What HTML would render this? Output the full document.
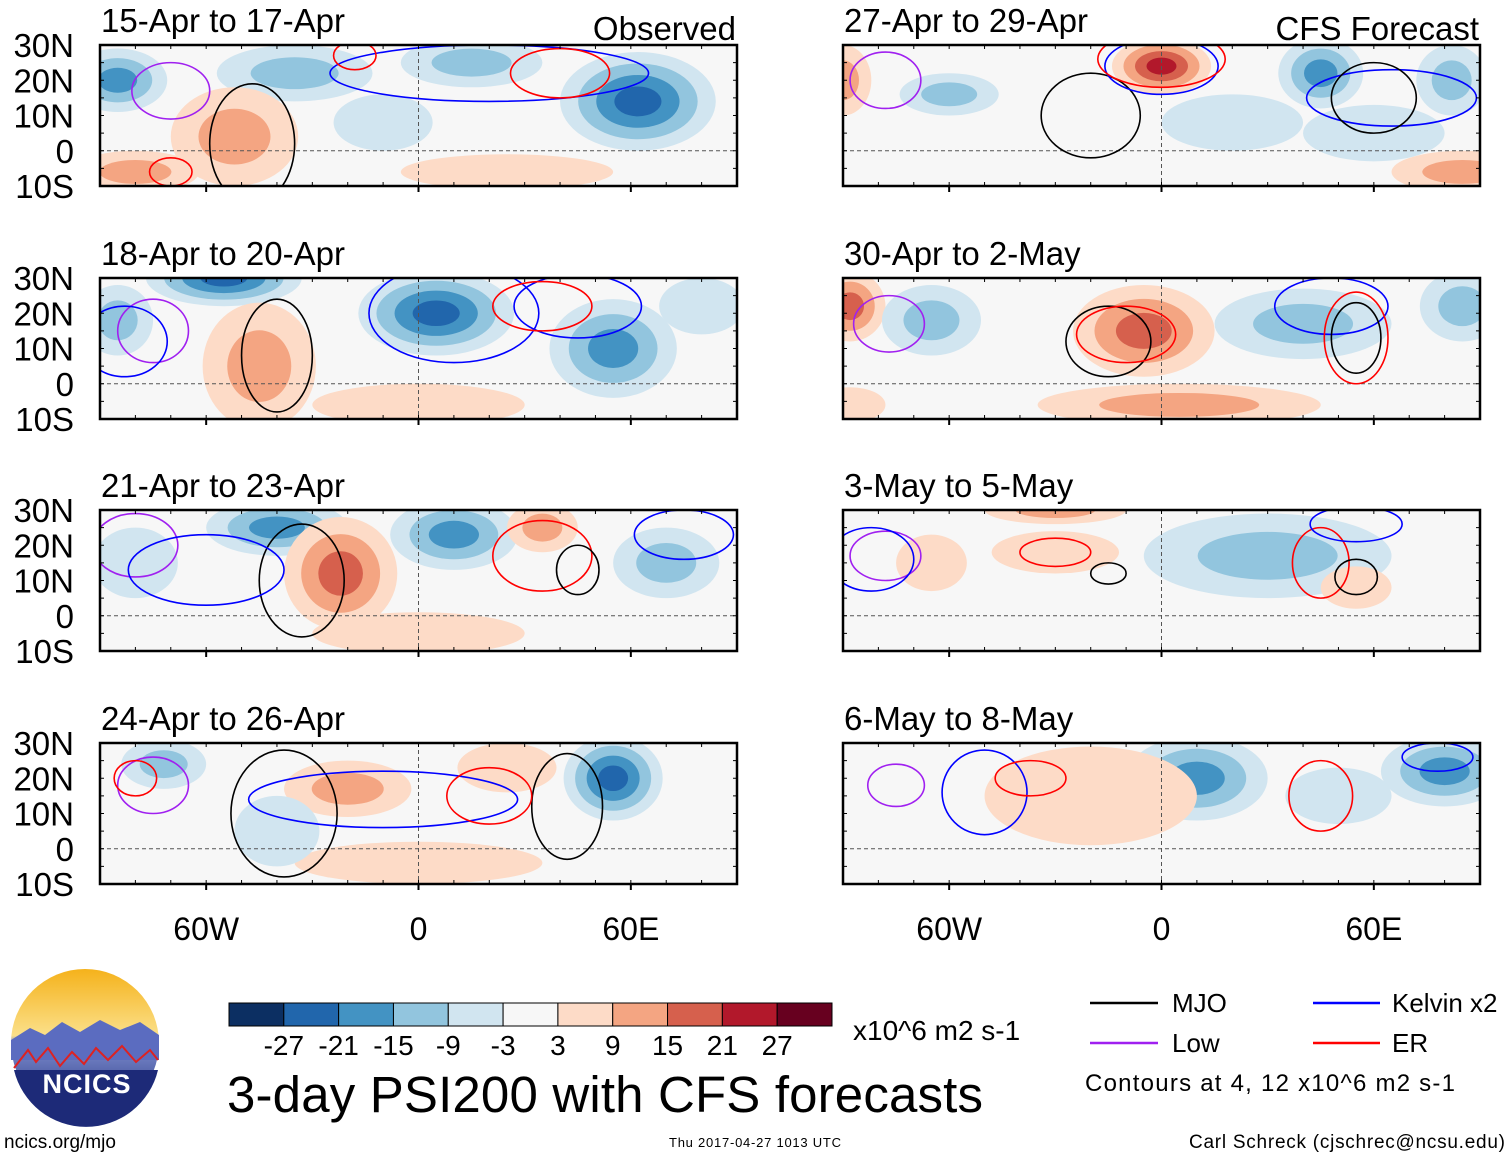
<!DOCTYPE html>
<html><head><meta charset="utf-8">
<style>
body{margin:0;background:#fff;}
svg{display:block;font-family:"Liberation Sans",Arial,sans-serif;}
</style></head>
<body>
<svg id="chart" width="1510" height="1158" viewBox="0 0 1510 1158" xmlns="http://www.w3.org/2000/svg">
<defs>
<linearGradient id="sky" x1="0" y1="0" x2="0" y2="1">
<stop offset="0" stop-color="#f5b21b"/><stop offset="0.45" stop-color="#fbe08a"/><stop offset="0.5" stop-color="#7f8fd0"/><stop offset="1" stop-color="#1d2a78"/>
</linearGradient>
</defs>
<g id="panels"></g>
<g id="colorbar"></g>
<g>
<circle cx="85" cy="1043" r="74" fill="url(#sky)"/>
<path d="M11,1040 L30,1028 L45,1035 L62,1022 L80,1032 L100,1020 L120,1030 L140,1022 L159,1035 L159,1060 L11,1060Z" fill="#5b6cc0"/>
<path d="M14,1068 L28,1050 L36,1062 L48,1048 L60,1066 L72,1052 L84,1064 L96,1048 L108,1060 L122,1046 L136,1062 L150,1050 L158,1060" fill="none" stroke="#d22" stroke-width="2"/>
<path d="M14,1070 L158,1070 A74,74 0 0 1 14,1070Z" fill="#1d2a78"/>
<text x="87" y="1093" text-anchor="middle" font-size="27" font-weight="bold" fill="#fff" letter-spacing="1">NCICS</text>
</g>
<text x="853" y="1040" font-size="28">x10^6 m2 s-1</text>
<text x="227" y="1112" font-size="51" textLength="756">3-day PSI200 with CFS forecasts</text>
<g font-size="26">
<line x1="1090" y1="1003" x2="1158" y2="1003" stroke="#000" stroke-width="2.5"/><text x="1172" y="1012">MJO</text>
<line x1="1090" y1="1043" x2="1158" y2="1043" stroke="#a020f0" stroke-width="2.5"/><text x="1172" y="1052">Low</text>
<line x1="1313" y1="1003" x2="1380" y2="1003" stroke="#0000ff" stroke-width="2.5"/><text x="1392" y="1012">Kelvin x2</text>
<line x1="1313" y1="1043" x2="1380" y2="1043" stroke="#ff0000" stroke-width="2.5"/><text x="1392" y="1052">ER</text>
<text x="1085" y="1091" font-size="24" textLength="370">Contours at 4, 12 x10^6 m2 s-1</text>
</g>
<text x="4" y="1148" font-size="19">ncics.org/mjo</text>
<text x="755" y="1147" font-size="13" text-anchor="middle" textLength="172">Thu 2017-04-27 1013 UTC</text>
<text x="1505" y="1148" font-size="19" text-anchor="end" textLength="316">Carl Schreck (cjschrec@ncsu.edu)</text>
</svg>
<script>
const NS="http://www.w3.org/2000/svg";
const levels=[-27,-21,-15,-9,-3,3,9,15,21,27];
const levelColors=["#0c2f62","#2166ac","#4393c3","#92c5de","#d1e5f0","#f7f7f7","#fddbc7","#f4a582","#d6604d","#b2182b","#67001f"];
const panelTitles=["15-Apr to 17-Apr","18-Apr to 20-Apr","21-Apr to 23-Apr","24-Apr to 26-Apr","27-Apr to 29-Apr","30-Apr to 2-May","3-May to 5-May","6-May to 8-May"];
const latTicks=["30N","20N","10N","0","10S"];
const latVals=[30,20,10,0,-10];
const lonTicks=["60W","0","60E"];
const lonVals=[-60,0,60];
// blobs: [lon, lat, rxDeg, ryDeg, value]
const blobs=[
[[-85,20,14,9,-15],[-35,22,22,8,-9],[15,25,20,7,-9],[62,14,22,14,-21],[-52,4,18,14,9],[-80,-6,18,6,9],[25,-6,30,5,3],[-10,8,14,8,-3]],
[[-55,30,22,8,-21],[5,20,22,12,-21],[55,10,18,14,-15],[-45,5,16,18,9],[-85,18,10,10,-9],[0,-6,30,6,3],[80,22,12,8,-3]],
[[-40,25,20,8,-15],[10,23,18,10,-15],[-22,12,16,16,15],[35,25,10,7,9],[-80,15,12,10,-3],[70,15,15,10,-9],[0,-5,30,6,3]],
[[55,20,14,12,-21],[-20,17,18,8,9],[-72,24,12,7,-9],[0,-4,35,6,3],[25,23,14,7,3],[-40,5,12,10,-3]],
[[0,24,14,8,21],[45,22,12,10,-15],[82,20,10,10,-9],[-90,20,8,10,9],[-60,16,14,6,-9],[20,8,20,8,-3],[60,5,20,8,-3],[85,-6,20,6,9]],
[[-88,22,10,10,15],[-5,15,20,13,15],[-65,18,14,10,-9],[40,17,25,10,-9],[85,22,12,10,-9],[5,-6,40,6,9],[-88,-6,10,5,3]],
[[-30,30,20,4,9],[30,17,35,12,-9],[-30,18,18,6,3],[-65,15,10,8,3],[55,8,10,6,3]],
[[10,20,20,12,-15],[80,22,18,10,-15],[-20,15,30,14,3],[50,15,15,8,-3]]
];
// contours: [lon, lat, rxDeg, ryDeg, color]
const contours=[
[[-70,17,11,8,"#a020f0"],[-47,2,12,17,"#000"],[20,22,45,8,"#0000ff"],[-18,27,6,4,"#ff0000"],[40,22,14,7,"#ff0000"],[-70,-6,6,4,"#ff0000"]],
[[-75,15,10,9,"#a020f0"],[-40,8,10,16,"#000"],[10,20,24,14,"#0000ff"],[45,22,18,9,"#0000ff"],[35,22,14,7,"#ff0000"],[-83,12,12,10,"#0000ff"]],
[[-80,20,12,9,"#a020f0"],[-33,10,12,16,"#000"],[-60,13,22,10,"#0000ff"],[35,17,14,10,"#ff0000"],[45,13,6,7,"#000"],[75,23,14,7,"#0000ff"]],
[[-75,18,10,8,"#a020f0"],[-38,10,15,18,"#000"],[-10,14,38,8,"#0000ff"],[42,12,10,15,"#000"],[20,15,12,8,"#ff0000"],[-80,20,6,5,"#ff0000"]],
[[-78,20,10,8,"#a020f0"],[-20,10,14,12,"#000"],[0,24,16,8,"#0000ff"],[65,15,24,8,"#0000ff"],[60,15,12,10,"#000"],[0,26,18,8,"#ff0000"]],
[[-77,17,10,8,"#a020f0"],[-15,12,12,10,"#000"],[-10,14,14,8,"#ff0000"],[48,22,16,8,"#0000ff"],[55,13,7,10,"#000"],[55,13,9,13,"#ff0000"]],
[[-78,17,10,7,"#a020f0"],[-82,16,12,9,"#0000ff"],[-30,18,10,4,"#ff0000"],[-15,12,5,3,"#000"],[45,15,8,10,"#ff0000"],[55,11,6,5,"#000"],[55,26,13,5,"#0000ff"]],
[[-75,18,8,6,"#a020f0"],[-50,16,12,12,"#0000ff"],[-37,20,10,5,"#ff0000"],[45,15,9,10,"#ff0000"],[78,26,10,4,"#0000ff"]]
];
const panelPos=[[100,45],[100,278],[100,510],[100,743],[843,45],[843,278],[843,510],[843,743]];
const W=637,H=141;
function colorFor(v){let i=0;while(i<levels.length&&v>levels[i])i++;return levelColors[i];}
function mk(tag,attrs,parent){const e=document.createElementNS(NS,tag);for(const k in attrs)e.setAttribute(k,attrs[k]);parent.appendChild(e);return e;}
const panelsG=document.getElementById('panels');
const defs=document.querySelector('defs');
panelTitles.forEach((t,p)=>{
  const [x0,y0]=panelPos[p];
  const xs=lon=>x0+(lon+90)/180*W;
  const ys=lat=>y0+(30-lat)/40*H;
  const g=mk('g',{},panelsG);
  
  
  const cp=mk('clipPath',{id:'cp'+p},defs);mk('rect',{x:x0,y:y0,width:W,height:H},cp);
  const inner=mk('g',{'clip-path':'url(#cp'+p+')'},g);
  mk('rect',{x:x0,y:y0,width:W,height:H,fill:'#f7f7f7'},inner);
  blobs[p].forEach(b=>{
    const [lon,lat,rx,ry,v]=b;
    const steps=levels.filter(l=>v>0?(l>0&&l<=v):(l<0&&l>=v));
    if(v>0)steps.sort((a,c)=>a-c);else steps.sort((a,c)=>c-a);
    const n=steps.length;
    steps.forEach((l,i)=>{
      const f=1-i/(n+0.3);
      const e=mk('ellipse',{cx:xs(lon),cy:ys(lat),rx:rx*f*W/180,ry:ry*f*H/40,fill:colorFor(v>0?l+0.1:l-0.1)},inner);
      
      
    });
  });
  mk('line',{x1:x0,y1:ys(0),x2:x0+W,y2:ys(0),stroke:'#555','stroke-dasharray':'4,3','stroke-width':1},inner);
  mk('line',{x1:xs(0),y1:y0,x2:xs(0),y2:y0+H,stroke:'#555','stroke-dasharray':'4,3','stroke-width':1},inner);
  contours[p].forEach(c=>{
    const e=mk('ellipse',{cx:xs(c[0]),cy:ys(c[1]),rx:c[2]*W/180,ry:c[3]*H/40,fill:'none',stroke:c[4],'stroke-width':1.6},inner);
    
    
  });
  mk('rect',{x:x0,y:y0,width:W,height:H,fill:'none',stroke:'#000','stroke-width':2.5},g);
  for(let lon=-90;lon<=90;lon+=10){mk('line',{x1:xs(lon),y1:y0,x2:xs(lon),y2:y0+4,stroke:'#000'},g);mk('line',{x1:xs(lon),y1:y0+H,x2:xs(lon),y2:y0+H-4,stroke:'#000'},g);}
  lonVals.forEach(l=>{mk('line',{x1:xs(l),y1:y0+H,x2:xs(l),y2:y0+H+6,stroke:'#000','stroke-width':2},g);});
  for(let lat=-10;lat<=30;lat+=5){mk('line',{x1:x0,y1:ys(lat),x2:x0+4,y2:ys(lat),stroke:'#000'},g);mk('line',{x1:x0+W,y1:ys(lat),x2:x0+W-4,y2:ys(lat),stroke:'#000'},g);}
  const tt=mk('text',{x:x0+1,y:y0-13,'font-size':33},g);tt.textContent=t;
  
  
  if(p===0){const o=mk('text',{x:x0+W-1,y:y0-5,'font-size':33,'text-anchor':'end'},g);o.textContent='Observed';}
  if(p===4){const o=mk('text',{x:x0+W-1,y:y0-5,'font-size':33,'text-anchor':'end'},g);o.textContent='CFS Forecast';}
  if(p<4){latTicks.forEach((lt,i)=>{const e=mk('text',{x:74,y:ys(latVals[i])+12,'font-size':33,'text-anchor':'end'},g);e.textContent=lt;});}
  if(p===3||p===7){lonTicks.forEach((lt,i)=>{const e=mk('text',{x:xs(lonVals[i]),y:940,'font-size':32,'text-anchor':'middle'},g);e.textContent=lt;});}
});
// colorbar
const cb=document.getElementById('colorbar');


const cbX=229,cbY=1003,cbW=603,cbH=23,bw=cbW/levelColors.length;
levelColors.forEach((c,i)=>{const r=mk('rect',{x:cbX+i*bw,y:cbY,width:bw,height:cbH,fill:c,stroke:'#000','stroke-width':1},cb);});
levels.forEach((l,i)=>{const t=mk('text',{x:cbX+(i+1)*bw,y:1055,'font-size':28,'text-anchor':'middle'},cb);t.textContent=l;});
</script>
</body></html>
